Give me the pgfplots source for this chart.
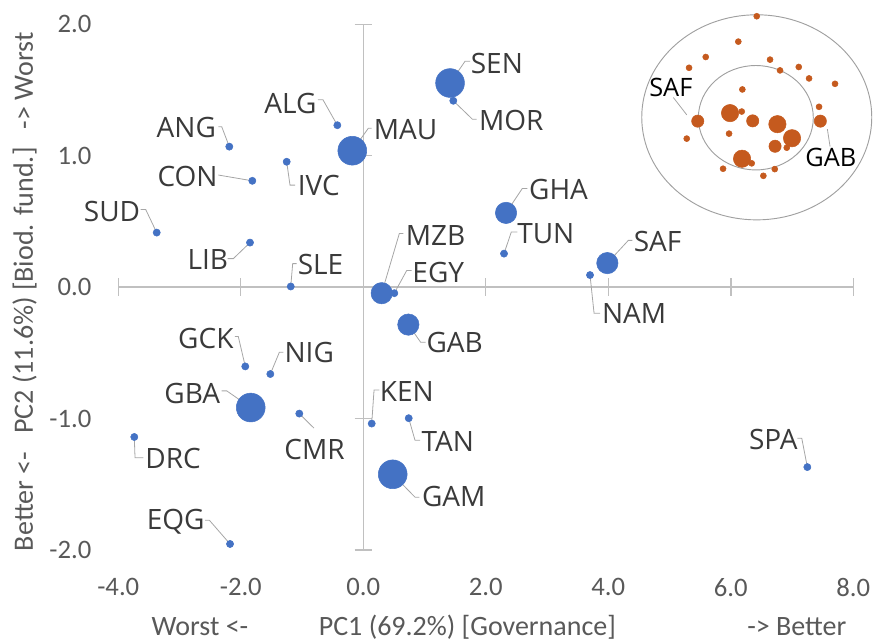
\documentclass[border=0pt]{standalone}
\usepackage{pgfplots}
\pgfplotsset{compat=1.18}
\usepackage{pgfplotstable}
\usepackage{fontspec}
\setmainfont{Carlito}
\newfontfamily\labfont{Open Sans}
\definecolor{ptblue}{HTML}{4472C4}
\definecolor{ptorange}{HTML}{C55A1E}
\definecolor{axgray}{HTML}{C0C0C0}
\definecolor{tickgray}{HTML}{595959}
\definecolor{labgray}{HTML}{3A3A3A}
\definecolor{leadgray}{HTML}{A6A6A6}
\definecolor{ringgray}{HTML}{A0A0A0}
\tikzset{
  lab/.style={font=\labfont\fontsize{21}{25}\selectfont, text=labgray, inner sep=0pt, anchor=center},
  ilab/.style={font=\labfont\fontsize{19}{23}\selectfont, text=black, inner sep=0pt, anchor=center},
  lead/.style={draw=leadgray, line width=0.6pt},
}

% main countries: small, medium and large bubbles
\pgfplotstableread{
x y
-0.424 1.232
-2.188 1.069
-1.812 0.809
-1.251 0.954
-3.373 0.415
-1.850 0.339
-1.185 0.005
0.506 -0.046
1.469 1.418
-1.927 -0.603
-1.518 -0.661
-1.045 -0.962
-3.739 -1.140
-2.176 -1.954
0.137 -1.038
0.741 -0.997
2.297 0.255
3.701 0.092
7.249 -1.369
}\bluesmall
\pgfplotstableread{
x y
0.300 -0.046
0.735 -0.285
2.330 0.565
3.984 0.183
}\bluemedium
\pgfplotstableread{
x y
-0.180 1.038
1.416 1.553
-1.838 -0.916
0.480 -1.424
}\bluelarge
% inset
\pgfplotstableread{
x y
6.423 2.061
6.122 1.868
5.590 1.751
5.318 1.669
6.640 1.731
6.803 1.649
7.109 1.675
7.277 1.588
7.701 1.547
6.188 1.504
7.440 1.372
6.178 1.336
5.280 1.130
5.971 1.168
6.913 1.061
6.341 0.942
5.873 0.901
6.531 0.847
6.717 0.898
}\orsmall
\pgfplotstableread{
x y
5.460 1.263
6.357 1.265
7.461 1.263
6.722 1.072
}\ormedium
\pgfplotstableread{
x y
5.987 1.324
6.760 1.240
6.999 1.133
6.183 0.977
}\orlarge

\begin{document}
\begin{tikzpicture}
\path[use as bounding box] (-88.725pt,-67.5pt) rectangle (566pt,412.5pt);
\begin{axis}[
  at={(0,0)}, anchor=south west,
  scale only axis, width=551.25pt, height=394.3pt,
  xmin=-4, xmax=8, ymin=-2, ymax=2,
  enlargelimits=false,
  clip=false,
  axis line style={draw=none},
  major tick length=0pt,
  tick style={draw=none},
  xtick={-4,-2,0,2,4,6,8},
  xticklabels={-4.0,-2.0,0.0,2.0,4.0,6.0,8.0},
  ytick={-2,-1,0,1,2},
  yticklabels={-2.0,-1.0,0.0,1.0,2.0},
  xticklabel style={anchor=north, inner sep=0pt, yshift=-21pt, font=\fontsize{20}{24}\selectfont, text=tickgray},
  yticklabel style={anchor=east, inner sep=0pt, xshift=-20pt, font=\fontsize{20}{24}\selectfont, text=tickgray},
]
% axis lines through the origin
\draw[axgray, line width=1pt] (axis cs:-4,0) -- (axis cs:8,0);
\draw[axgray, line width=1pt] (axis cs:0,-2) -- (axis cs:0,2);
\pgfplotsinvokeforeach{-4,-2,0,2,4,6,8}{
  \draw[axgray, line width=1pt] ([yshift=-6.5pt]axis cs:#1,0) -- ([yshift=6.5pt]axis cs:#1,0);
}
\pgfplotsinvokeforeach{-2,-1,0,1,2}{
  \draw[axgray, line width=1pt] ([xshift=-6.5pt]axis cs:0,#1) -- ([xshift=6.5pt]axis cs:0,#1);
}

% inset rings
\draw[ringgray, line width=0.7pt] (axis cs:6.423,1.292) ellipse [x radius=86.25pt, y radius=76.9pt];
\draw[ringgray, line width=0.7pt] (axis cs:6.408,1.289) ellipse [x radius=43.1pt, y radius=39.15pt];

\addplot[only marks, mark=*, mark size=2.25pt, color=ptorange] table {\orsmall};
\addplot[only marks, mark=*, mark size=4.6pt, color=ptorange] table {\ormedium};
\addplot[only marks, mark=*, mark size=6.5pt, color=ptorange] table {\orlarge};

\addplot[only marks, mark=*, mark size=2.7pt, color=ptblue] table {\bluesmall};
\addplot[only marks, mark=*, mark size=8pt, color=ptblue] table {\bluemedium};
\addplot[only marks, mark=*, mark size=10.8pt, color=ptblue] table {\bluelarge};

% leader lines
\draw[lead] (axis cs:-0.740,1.425) -- (axis cs:-0.658,1.425) -- (axis cs:-0.424,1.232);
\draw[lead] (axis cs:-2.367,1.221) -- (axis cs:-2.312,1.221) -- (axis cs:-2.188,1.069);
\draw[lead] (axis cs:0.137,1.209) -- (axis cs:0.082,1.209) -- (axis cs:-0.180,1.038);
\draw[lead] (axis cs:-2.367,0.853) -- (axis cs:-1.812,0.809);
\draw[lead] (axis cs:-1.115,0.776) -- (axis cs:-1.197,0.776) -- (axis cs:-1.251,0.954);
\draw[lead] (axis cs:-3.634,0.591) -- (axis cs:-3.553,0.591) -- (axis cs:-3.373,0.415);
\draw[lead] (axis cs:-2.214,0.217) -- (axis cs:-2.122,0.217) -- (axis cs:-1.850,0.339);
\draw[lead] (axis cs:-1.087,0.179) -- (axis cs:-1.153,0.179) -- (axis cs:-1.185,0.005);
\draw[lead] (axis cs:0.653,0.408) -- (axis cs:0.588,0.408) -- (axis cs:0.300,-0.046);
\draw[lead] (axis cs:0.790,0.127) -- (axis cs:0.709,0.127) -- (axis cs:0.506,-0.046);
\draw[lead] (axis cs:1.742,1.718) -- (axis cs:1.660,1.718) -- (axis cs:1.416,1.553);
\draw[lead] (axis cs:1.851,1.278) -- (axis cs:1.780,1.278) -- (axis cs:1.469,1.418);
\draw[lead] (axis cs:-2.095,-0.376) -- (axis cs:-2.041,-0.376) -- (axis cs:-1.927,-0.603);
\draw[lead] (axis cs:-1.306,-0.496) -- (axis cs:-1.371,-0.496) -- (axis cs:-1.518,-0.661);
\draw[lead] (axis cs:-2.312,-0.789) -- (axis cs:-2.230,-0.789) -- (axis cs:-1.838,-0.916);
\draw[lead] (axis cs:-1.045,-0.962) -- (axis cs:-0.805,-1.073);
\draw[lead] (axis cs:-3.739,-1.140) -- (axis cs:-3.727,-1.298) -- (axis cs:-3.592,-1.298);
\draw[lead] (axis cs:-2.584,-1.773) -- (axis cs:-2.514,-1.773) -- (axis cs:-2.176,-1.954);
\draw[lead] (axis cs:0.261,-0.783) -- (axis cs:0.175,-0.783) -- (axis cs:0.137,-1.038);
\draw[lead] (axis cs:0.741,-0.997) -- (axis cs:0.844,-1.165) -- (axis cs:0.926,-1.165);
\draw[lead] (axis cs:0.480,-1.424) -- (axis cs:0.844,-1.598) -- (axis cs:0.914,-1.598);
\draw[lead] (axis cs:0.735,-0.285) -- (axis cs:0.937,-0.420) -- (axis cs:1.019,-0.420);
\draw[lead] (axis cs:2.678,0.751) -- (axis cs:2.596,0.751) -- (axis cs:2.330,0.565);
\draw[lead] (axis cs:2.514,0.420) -- (axis cs:2.416,0.420) -- (axis cs:2.297,0.255);
\draw[lead] (axis cs:4.392,0.356) -- (axis cs:4.327,0.356) -- (axis cs:3.984,0.183);
\draw[lead] (axis cs:3.701,0.092) -- (axis cs:3.767,-0.198) -- (axis cs:3.864,-0.198);
\draw[lead] (axis cs:7.086,-1.150) -- (axis cs:7.158,-1.150) -- (axis cs:7.249,-1.369);
\draw[lead] (axis cs:5.061,1.443) -- (axis cs:5.280,1.311);
\draw[lead] (axis cs:7.576,1.202) -- (axis cs:7.620,1.069);

% country labels
\node[lab] at (axis cs:-1.189,1.400) {ALG};
\node[lab] at (axis cs:-2.890,1.217) {ANG};
\node[lab] at (axis cs:0.689,1.202) {MAU};
\node[lab] at (axis cs:-2.870,0.840) {CON};
\node[lab] at (axis cs:-0.728,0.770) {IVC};
\node[lab] at (axis cs:-4.103,0.579) {SUD};
\node[lab] at (axis cs:-2.539,0.210) {LIB};
\node[lab] at (axis cs:-0.699,0.172) {SLE};
\node[lab] at (axis cs:1.179,0.391) {MZB};
\node[lab] at (axis cs:1.224,0.115) {EGY};
\node[lab] at (axis cs:2.180,1.702) {SEN};
\node[lab] at (axis cs:2.415,1.270) {MOR};
\node[lab] at (axis cs:-2.571,-0.394) {GCK};
\node[lab] at (axis cs:-0.883,-0.500) {NIG};
\node[lab] at (axis cs:-2.792,-0.809) {GBA};
\node[lab] at (axis cs:-0.797,-1.237) {CMR};
\node[lab] at (axis cs:-3.104,-1.302) {DRC};
\node[lab] at (axis cs:-3.063,-1.781) {EQG};
\node[lab] at (axis cs:0.709,-0.795) {KEN};
\node[lab] at (axis cs:1.380,-1.174) {TAN};
\node[lab] at (axis cs:1.476,-1.596) {GAM};
\node[lab] at (axis cs:1.492,-0.420) {GAB};
\node[lab] at (axis cs:3.187,0.740) {GHA};
\node[lab] at (axis cs:2.980,0.408) {TUN};
\node[lab] at (axis cs:4.803,0.344) {SAF};
\node[lab] at (axis cs:4.420,-0.203) {NAM};
\node[lab] at (axis cs:6.694,-1.160) {SPA};
\node[ilab] at (axis cs:5.020,1.521) {SAF};
\node[ilab] at (axis cs:7.633,0.986) {GAB};
\end{axis}

% axis titles
\node[rotate=90, anchor=base, inner sep=0pt, font=\fontsize{21}{25}\selectfont, text=tickgray]
  at (-64pt,193.7pt) {Better <-\hspace{0.65em}PC2 (11.6\%) [Biod. fund.]\hspace{0.65em}-> Worst};
\node[anchor=base west, inner sep=0pt, font=\fontsize{21}{25}\selectfont, text=tickgray]
  at (24.8pt,-63.75pt) {Worst <-};
\node[anchor=base west, inner sep=0pt, font=\fontsize{21}{25}\selectfont, text=tickgray]
  at (150.2pt,-63.75pt) {PC1 (69.2\%) [Governance]};
\node[anchor=base west, inner sep=0pt, font=\fontsize{21}{25}\selectfont, text=tickgray]
  at (471.5pt,-63.75pt) {-> Better};
\end{tikzpicture}
\end{document}
